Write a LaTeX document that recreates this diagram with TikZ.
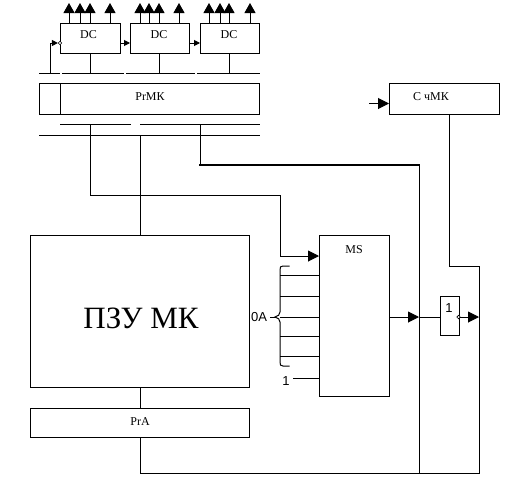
\documentclass[tikz,border=0pt]{standalone}
\usepackage{fontspec}
\setmainfont{Liberation Serif}
\newfontfamily\labelsans{Liberation Sans}
\usetikzlibrary{arrows.meta,calc}
\tikzset{
  wire/.style={line width=1pt,line cap=rect},
  box/.style={draw,line width=1pt,inner sep=0pt,outer sep=0pt},
  boxtext/.style={font=\fontsize{12}{14}\selectfont},
  sanstext/.style={font=\labelsans\fontsize{13}{15}\selectfont},
  up/.style={wire,-{Triangle[length=10pt,width=11pt]}},
  big/.style={wire,-{Triangle[length=11pt,width=11pt]}},
  small/.style={wire,-{Triangle[length=6pt,width=6pt]}},
  inv/.style={circle,draw,line width=0.7pt,minimum size=3.5pt,inner sep=0pt,fill=white}
}
\begin{document}
\begin{tikzpicture}[x=1pt,y=-1pt]
\useasboundingbox (0,0) rectangle (511,477);
% boxes
\node[box,minimum width=60pt,minimum height=30pt] (dc1) at (90,38) {};
\node[box,minimum width=59pt,minimum height=30pt] (dc2) at (159.5,38) {};
\node[box,minimum width=59pt,minimum height=30pt] (dc3) at (229.5,38) {};
\node[boxtext] (dc1t) at (88.5,35) {DC};
\node[boxtext] (dc2t) at (159,35) {DC};
\node[boxtext] (dc3t) at (229,35) {DC};
\node[box,minimum width=220pt,minimum height=31pt] (pr) at (149.5,98.5) {};
\node[boxtext] (prt) at (150,97) {PrМК};
\node[box,minimum width=110pt,minimum height=31pt] (cnt) at (444,98.5) {};
\node[boxtext] (cntt) at (431,97) {С чМК};
\node[box,minimum width=219pt,minimum height=152pt] (rom) at (139.5,311) {};
\node[font=\fontsize{31}{35}\selectfont] (romt) at (141,318) {ПЗУ МК};
\node[box,minimum width=219pt,minimum height=29pt] (pra) at (139.5,422.5) {};
\node[boxtext] (prat) at (140,422) {PrA};
\node[box,minimum width=70pt,minimum height=161pt] (ms) at (354,315.5) {};
\node[boxtext] (mst) at (354,250) {MS};
\node[box,minimum width=19pt,minimum height=39pt] (gate) at (449.5,315.5) {};
\node[sanstext] (gatet) at (449,308) {1};
\node[sanstext] (oa) at (259,317) {0A};
\node[sanstext] (one) at (286,381) {1};

% PrMK divider
\coordinate (div) at (60,0);
\draw[wire] (div |- pr.north) -- (div |- pr.south);

% DC outputs
\foreach \n/\x/\d in {a/69/1,b/80/1,c/90/1,d/110/1,e/140/2,f/149/2,g/159/2,h/179/2,i/209/3,j/220/3,k/229/3,l/250/3}{
  \coordinate (u\n) at (\x,3);
  \draw[up] (u\n |- dc\d.north) -- (u\n);
}
% buses above register
\coordinate (t1a) at (39,73); \coordinate (t1b) at (59,73);
\coordinate (t2a) at (62,73); \coordinate (t2b) at (123,73);
\coordinate (t3a) at (126,73); \coordinate (t3b) at (194,73);
\coordinate (t4a) at (197,73); \coordinate (t4b) at (259,73);
\draw[wire] (t1a) -- (t1b);
\draw[wire] (t2a) -- (t2b);
\draw[wire] (t3a) -- (t3b);
\draw[wire] (t4a) -- (t4b);
\draw[wire] (dc1.south) -- (dc1.south |- t2a);
\draw[wire] (dc2.south) -- (dc2.south |- t2a);
\draw[wire] (dc3.south) -- (dc3.south |- t2a);
% chain
\coordinate (lft) at (50,73);
\coordinate (cy) at (0,43);
\node[inv] (in1) at (60,43) {};
\draw[small] (lft) -- (lft |- cy) -- (in1.west);
\draw[small] (dc1.east |- cy) -- (dc2.west |- cy);
\draw[small] (dc2.east |- cy) -- (dc3.west |- cy);
% buses below register
\coordinate (b1a) at (60,124); \coordinate (b1b) at (130,124);
\coordinate (b2a) at (140,124); \coordinate (b2b) at (259,124);
\coordinate (b3a) at (39,135); \coordinate (b3b) at (259,135);
\draw[wire] (b1a) -- (b1b);
\draw[wire] (b2a) -- (b2b);
\draw[wire] (b3a) -- (b3b);
% to MS select
\coordinate (s1) at (90,124); \coordinate (s2) at (90,195); \coordinate (s3) at (280,195); \coordinate (s4) at (280,256);
\draw[big] (s1) -- (s2) -- (s3) -- (s4) -- (ms.west |- s4);
% ROM feed
\coordinate (r1) at (140,135);
\draw[wire] (r1) -- (r1 |- rom.north);
\draw[wire] (r1 |- rom.south) -- (r1 |- pra.north);
% thick bus
\coordinate (f1) at (200,124); \coordinate (f2) at (200,165); \coordinate (f3) at (419,165); \coordinate (f4) at (419,473);
\draw[wire] (f1) -- (f2);
\draw[line width=1.8pt,line cap=rect] (f2) -- (f3);
\draw[wire] (f3) -- (f4);
% bottom loop
\coordinate (l1) at (140,473); \coordinate (l2) at (479,473); \coordinate (l3) at (479,266); \coordinate (l4) at (449,266);
\draw[wire] (r1 |- pra.south) -- (l1) -- (l2) -- (l3) -- (l4) -- (l4 |- cnt.south);
% counter input
\coordinate (ci) at (369,103.5);
\draw[big] (ci) -- (cnt.west |- ci);
% MS inputs
\coordinate (bx) at (280,0);
\foreach \y in {275,296,317,336,356}{
  \draw[wire] (bx |- 0,\y) -- (ms.west |- 0,\y);
}
\coordinate (bt) at (289,266); \coordinate (bb) at (289,366);
\draw[wire] (bt) -- (283,266) .. controls (280.5,266) and (280,267) .. (280,270)
  -- (280,312) .. controls (280,315) and (278,316) .. (275,317)
  .. controls (278,318) and (280,319) .. (280,322)
  -- (280,362) .. controls (280,365) and (280.5,366) .. (283,366) -- (bb);
\draw[wire] (oa.east) -- (275,317);
\coordinate (onel) at (293,378);
\draw[wire] (onel) -- (ms.west |- onel);
% output
\coordinate (oy) at (0,317);
\coordinate (tip1) at (419,317);
\draw[big] (ms.east |- oy) -- (tip1);
\draw[wire] (tip1) -- (gate.west |- oy);
\node[inv] (in2) at (458.5,317) {};
\coordinate (tip2) at (479,317);
\draw[big] (in2.east) -- (tip2);
\end{tikzpicture}
\end{document}
